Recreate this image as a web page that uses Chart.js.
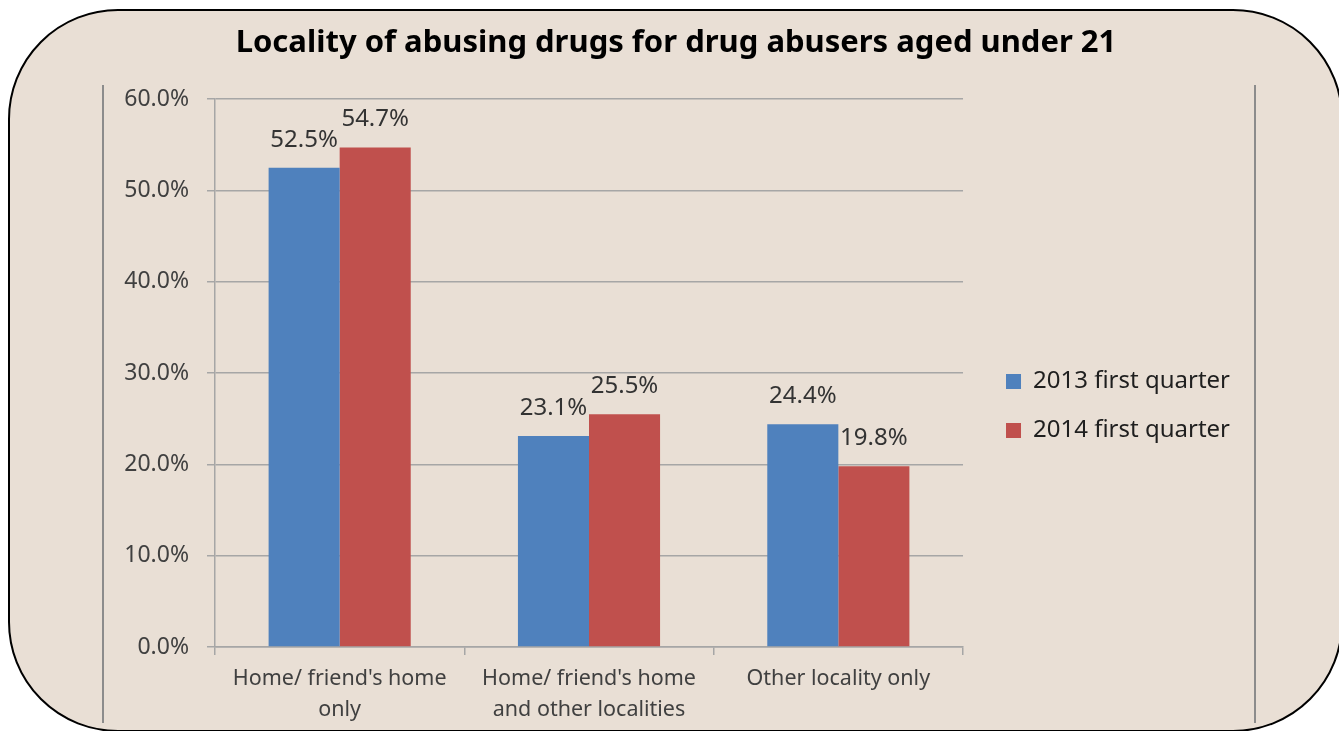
<!DOCTYPE html>
<html>
<head>
<meta charset="utf-8">
<title>Locality of abusing drugs for drug abusers aged under 21</title>
<script src="https://cdn.jsdelivr.net/npm/chart.js"></script>
<style>
  html, body { margin: 0; padding: 0; background: #fff; }
  body { width: 1339px; height: 731px; overflow: hidden; position: relative; }
  .frame {
    position: absolute; left: 8px; top: 9px; width: 1335px; height: 723px;
    box-sizing: border-box; border: 2px solid #000; border-radius: 110px;
    background: #e9dfd5;
  }
  .rule { position: absolute; top: 85px; width: 2px; height: 638px; background: #8c8c8c; }
  .wrap { position: absolute; left: 0; top: 0; width: 1339px; height: 731px; }
</style>
</head>
<body>
<div class="frame"></div>
<div class="rule" style="left:102px"></div>
<div class="rule" style="left:1254px"></div>
<div class="wrap"><canvas id="bar-chart"></canvas></div>

<script>
const categories = [
    ["Home/ friend's home", 'only'],
    ["Home/ friend's home", 'and other localities'],
    'Other locality only'
];
const seriesNames = ['2013 first quarter', '2014 first quarter'];
const q1of2013 = [52.5, 23.1, 24.4];
const q1of2014 = [54.7, 25.5, 19.8];
const yTicks = [0, 10, 20, 30, 40, 50, 60];

Chart.defaults.font.family = "'Noto Sans', sans-serif";

const gridGray = '#a6a6a6';

// value labels above each bar
const barValues = {
    id: 'barValues',
    afterDatasetsDraw(chart) {
        const ctx = chart.ctx;
        ctx.save();
        ctx.font = "24px 'Noto Sans', sans-serif";
        ctx.fillStyle = '#333333';
        ctx.textAlign = 'center';
        ctx.textBaseline = 'middle';
        chart.data.datasets.forEach((ds, i) => {
            chart.getDatasetMeta(i).data.forEach((bar, j) => {
                ctx.fillText(ds.data[j].toFixed(1) + '%', bar.x, bar.y - 28);
            });
        });
        ctx.restore();
    }
};//barValues

// title sits a bit right of the canvas centre, legend lower/right, like the original
const boxNudge = {
    id: 'boxNudge',
    afterLayout(chart) {
        const t = chart.titleBlock;
        t.left += 15; t.right += 15;
        const lg = chart.legend;
        lg.left += 18; lg.right += 18;
        lg.top += 33; lg.bottom += 33;
    }
};//boxNudge

const data = {
    labels: categories,
    datasets: [
        { label: seriesNames[0], data: q1of2013, backgroundColor: '#4f81bd', borderWidth: 0 },
        { label: seriesNames[1], data: q1of2014, backgroundColor: '#c0504d', borderWidth: 0 }
    ]
};//data

const config = {
    type: 'bar',
    data: data,
    plugins: [barValues, boxNudge],
    options: {
        responsive: true,
        maintainAspectRatio: false,
        animation: false,
        categoryPercentage: 0.57,
        barPercentage: 1,
        layout: { padding: { left: 100, right: 117, top: 0, bottom: 0 } },
        plugins: {
            title: {
                display: true,
                text: 'Locality of abusing drugs for drug abusers aged under 21',
                color: '#000',
                font: { size: 31, weight: 'bold' },
                padding: { top: 25, bottom: 37 }
            },
            legend: {
                position: 'right',
                fullSize: false,
                labels: {
                    color: '#1f1f1f',
                    font: { size: 24 },
                    boxWidth: 15,
                    boxHeight: 15,
                    padding: 25
                }
            },
            tooltip: { enabled: false }
        },
        scales: {
            x: {
                grid: { drawOnChartArea: false, tickLength: 8, color: gridGray, lineWidth: 1.5 },
                border: { color: gridGray, width: 1.5 },
                ticks: {
                    color: '#404040',
                    font: { size: 21.5, lineHeight: 1.45 },
                    padding: 8,
                    maxRotation: 0,
                    autoSkip: false
                },
                afterFit: (scale) => { scale.height = 84; }
            },
            y: {
                min: 0,
                max: 60,
                grid: { color: gridGray, lineWidth: 1.5, tickLength: 8 },
                border: { color: gridGray, width: 1.5 },
                ticks: {
                    color: '#404040',
                    font: { size: 23 },
                    padding: 18,
                    callback: (v) => v.toFixed(1) + '%'
                },
                afterBuildTicks: (scale) => { scale.ticks = yTicks.map(v => ({ value: v })); },
                afterFit: (scale) => { scale.width = 115; }
            }
        }
    }
};//config

const myChart = new Chart(
    document.getElementById('bar-chart'),
    config
);//new Chart
</script>
</body>
</html>
